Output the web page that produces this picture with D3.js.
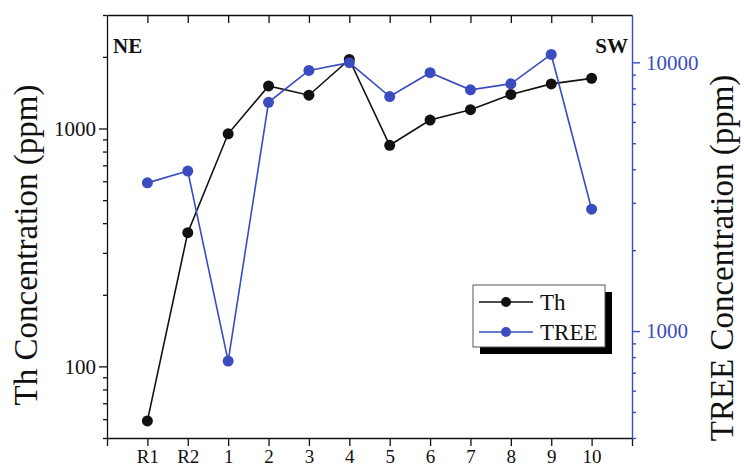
<!DOCTYPE html>
<html>
<head>
<meta charset="utf-8">
<script src="https://cdn.jsdelivr.net/npm/d3@7"></script>
<style>
  html, body { margin: 0; padding: 0; background: #fff; }
  svg { display: block; font-family: "Liberation Serif", "Times New Roman", serif; }
</style>
</head>
<body>
<svg id="chart" width="744" height="466"></svg>
<script>
// Sample sites along the profile, NE to SW
const categories = ["R1", "R2", "1", "2", "3", "4", "5", "6", "7", "8", "9", "10"];
// Th concentration (ppm)
const thValues = [59, 365, 950, 1510, 1380, 1950, 850, 1085, 1200, 1390, 1540, 1625];
// Total REE concentration (ppm)
const treeValues = [3560, 3940, 773, 7100, 9330, 9970, 7460, 9150, 7900, 8320, 10700, 2840];
const thTickLabels = [100, 1000];
const treeTickLabels = [1000, 10000];

const BLUE = "#3a4cbf";
const svg = d3.select("#chart");
const plot = { left: 107, right: 632, top: 15, bottom: 438 };

const x = d3.scalePoint().domain(categories).range([plot.left, plot.right]).padding(1);
const yTh = d3.scaleLog().domain([50, 3000]).range([plot.bottom, plot.top]);
const yTree = d3.scaleLog().domain([400, 15000]).range([plot.bottom, plot.top]);

// Frame: top and bottom axes
const bottomAxis = d3.axisBottom(x).tickSize(8).tickSizeOuter(8).tickPadding(4);
const gB = svg.append("g").attr("transform", `translate(0,${plot.bottom})`).call(bottomAxis);
gB.selectAll("text").attr("font-size", 19).attr("fill", "#111").attr("font-family", "Liberation Serif");

const topAxis = d3.axisTop(x).tickSize(-8).tickSizeOuter(0).tickFormat("");
const gT = svg.append("g").attr("transform", `translate(0,${plot.top})`).call(topAxis);

// Left (Th) axis
const thTicks = yTh.ticks();
const leftAxis = d3.axisLeft(yTh).tickValues(thTicks).tickSizeOuter(0).tickPadding(5)
  .tickFormat(d => thTickLabels.includes(d) ? d3.format("d")(d) : "");
const gL = svg.append("g").attr("transform", `translate(${plot.left},0)`).call(leftAxis);
gL.selectAll(".tick line").attr("x2", d => thTickLabels.includes(d) ? -8 : -4);
gL.selectAll(".tick text").attr("x", -11).attr("font-size", 21).attr("fill", "#111").attr("font-family", "Liberation Serif");

// Right (TREE) axis
const treeTicks = yTree.ticks();
const rightAxis = d3.axisRight(yTree).tickValues(treeTicks).tickSizeOuter(0).tickPadding(5)
  .tickFormat(d => treeTickLabels.includes(d) ? d3.format("d")(d) : "");
const gR = svg.append("g").attr("transform", `translate(${plot.right},0)`).call(rightAxis);
gR.selectAll(".tick line").attr("x2", d => treeTickLabels.includes(d) ? 8 : 4);
gR.selectAll(".tick text").attr("x", 14).attr("font-size", 21).attr("fill", BLUE).attr("font-family", "Liberation Serif");

[gB, gT, gL].forEach(g => {
  g.selectAll(".domain, .tick line").attr("stroke", "#111").attr("stroke-width", 1.3);
});
gR.selectAll(".domain, .tick line").attr("stroke", BLUE).attr("stroke-width", 1.4);

// Axis titles
svg.append("text")
  .attr("transform", `translate(37,245) rotate(-90)`)
  .attr("text-anchor", "middle").attr("font-size", 33).attr("fill", "#111")
  .text("Th Concentration (ppm)");
svg.append("text")
  .attr("transform", `translate(733,258) rotate(-90)`)
  .attr("text-anchor", "middle").attr("font-size", 33).attr("fill", "#111")
  .text("TREE Concentration (ppm)");

// Direction labels
svg.append("text").attr("x", 113).attr("y", 53).attr("font-size", 21).attr("font-weight", "bold")
  .attr("fill", "#111").text("NE");
svg.append("text").attr("x", 628).attr("y", 53).attr("font-size", 21).attr("font-weight", "bold")
  .attr("text-anchor", "end").attr("fill", "#111").text("SW");

// Series
const series = [
  { name: "Th", values: thValues, y: yTh, color: "#111" },
  { name: "TREE", values: treeValues, y: yTree, color: BLUE }
];
series.forEach(s => {
  const line = d3.line().x((d, i) => x(categories[i])).y(d => s.y(d));
  svg.append("path").datum(s.values).attr("d", line)
    .attr("fill", "none").attr("stroke", s.color).attr("stroke-width", 1.6);
  svg.append("g").selectAll("circle").data(s.values).join("circle")
    .attr("cx", (d, i) => x(categories[i])).attr("cy", d => s.y(d))
    .attr("r", 5.5).attr("fill", s.color);
});

// Legend with drop shadow
const lg = svg.append("g").attr("transform", "translate(473,285)");
const lw = 132, lh = 62;
lg.append("rect").attr("x", 7).attr("y", 7).attr("width", lw).attr("height", lh).attr("fill", "#000");
lg.append("rect").attr("x", 0).attr("y", 0).attr("width", lw).attr("height", lh)
  .attr("fill", "#fff").attr("stroke", "#555").attr("stroke-width", 1);
series.forEach((s, i) => {
  const cy = 17 + i * 30;
  lg.append("line").attr("x1", 6).attr("x2", 60).attr("y1", cy).attr("y2", cy)
    .attr("stroke", s.color).attr("stroke-width", 1.6);
  lg.append("circle").attr("cx", 33).attr("cy", cy).attr("r", 5).attr("fill", s.color);
  lg.append("text").attr("x", 67).attr("y", cy + 8).attr("font-size", 23).attr("fill", "#111").text(s.name);
});
</script>
</body>
</html>
